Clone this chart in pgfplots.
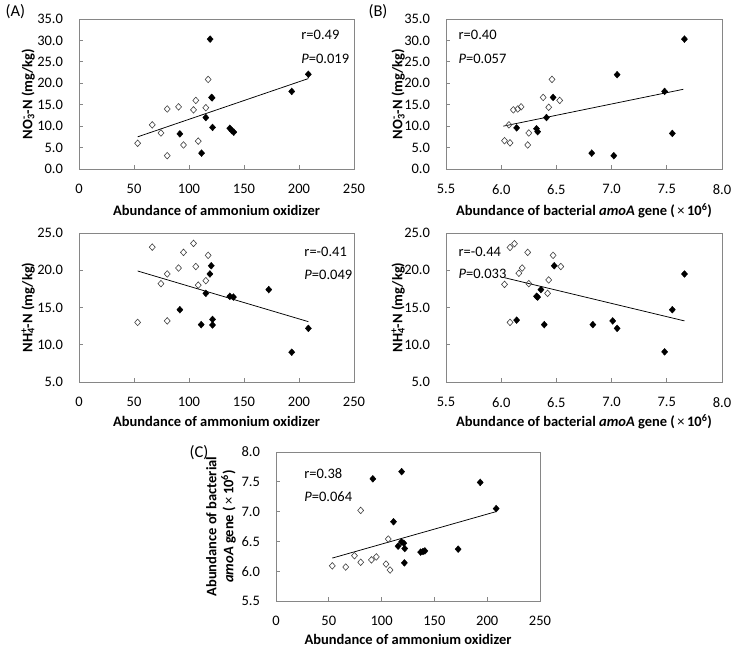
\documentclass[border=0pt]{standalone}
\usepackage{pgfplots}
\pgfplotsset{compat=1.18}
\usepackage{fontspec}
\setmainfont{Carlito}
\newcommand\fs{\fontsize{14.5bp}{17bp}\selectfont}
\newcommand\subsup[2]{\rlap{\textsuperscript{#2}}\textsubscript{#1}}
\definecolor{axgray}{HTML}{868686}
\pgfplotsset{
  base/.style={
    scale only axis, anchor=south west,
    axis line style={draw=axgray, line width=0.9bp},
    tick style={draw=axgray, line width=0.8bp},
    major tick length=3.5bp, tick align=inside,
    xtick pos=bottom, ytick pos=left,
    font=\fs,
    /pgf/number format/assume math mode=true,
    yticklabel style={/pgf/number format/.cd, fixed, fixed zerofill, precision=1, /tikz/.cd, xshift=-12.5bp},
    xticklabel style={yshift=-12bp},
    xlabel style={font=\fs\bfseries, anchor=base},
    ylabel style={font=\fs\bfseries, anchor=base},
    clip=false,
  },
  ao/.style={xmin=0, xmax=250, xtick={0,50,100,150,200,250},
    xlabel={Abundance of ammonium oxidizer}},
  amoa/.style={xmin=5.5, xmax=8, xtick={5.5,6.0,6.5,7.0,7.5,8.0},
    xticklabel style={/pgf/number format/.cd, fixed, fixed zerofill, precision=1},
    xlabel={Abundance of bacterial \textit{amoA} gene (\,{\mdseries ×}\,10\textsuperscript{6})}},
  no3/.style={ymin=0, ymax=35, ytick={0,5,10,15,20,25,30,35},
    ylabel={NO\subsup{3}{-}-N (mg/kg)}},
  nh4/.style={ymin=5, ymax=25, ytick={5,10,15,20,25},
    ylabel={NH\subsup{4}{+}-N (mg/kg)}},
  openpt/.style={only marks, mark=diamond, mark size=3.3bp,
    mark options={draw=black!75, fill=white, line width=0.6bp, xscale=1.2}},
  fillpt/.style={only marks, mark=diamond*, mark size=3.4bp,
    mark options={draw=black, fill=black, line width=0.4bp, xscale=1.2}},
  trend/.style={no marks, black, line width=0.75bp},
}
\begin{document}
\begin{tikzpicture}
\useasboundingbox (0,0) rectangle (733bp,650bp);
\node[anchor=base west, font=\fontsize{16.5bp}{19bp}\selectfont] at (2bp,633bp) {(A)};
\node[anchor=base west, font=\fontsize{16.5bp}{19bp}\selectfont] at (365bp,633bp) {(B)};
\node[anchor=base west, font=\fontsize{16.5bp}{19bp}\selectfont] at (186bp,192bp) {(C)};

% ---------- A top ----------
\begin{axis}[base, ao, no3, at={(79bp,481bp)}, width=275bp, height=150bp,
  xlabel style={at={(axis description cs:0.5,-0.313)}},
  ylabel style={at={(axis description cs:-0.170,0.5)}}]
\addplot[openpt] coordinates {(53.3,6.0) (66.6,10.3) (74.5,8.4) (80.2,14.0) (80.2,3.1) (90.5,14.5) (95.0,5.6) (104.1,13.8) (106.2,16.0) (108.4,6.5) (115.3,14.3) (117.4,20.9)};
\addplot[fillpt] coordinates {(91.7,8.2) (111.4,3.7) (115.3,12.0) (119.2,30.3) (120.5,16.7) (121.0,16.6) (121.4,9.7) (137.1,9.5) (139.2,8.9) (140.7,8.6) (193.4,18.1) (208.5,22.1)};
\addplot[trend] coordinates {(53.3,7.5) (208.5,21.1)};
\node[anchor=base west, font=\fs] at (rel axis cs:0.796,0.86) {r=0.49};
\node[anchor=base west, font=\fs] at (rel axis cs:0.796,0.70) {\textit{P}=0.019};
\end{axis}

% ---------- B top ----------
\begin{axis}[base, amoa, no3, at={(446bp,481bp)}, width=276bp, height=150bp,
  xlabel style={at={(axis description cs:0.5,-0.313)}},
  ylabel style={at={(axis description cs:-0.158,0.5)}}]
\addplot[openpt] coordinates {(6.03,6.6) (6.08,6.1) (6.07,10.3) (6.11,13.8) (6.15,14.0) (6.18,14.5) (6.24,5.6) (6.25,8.4) (6.38,16.7) (6.43,14.4) (6.46,20.9) (6.53,16.0)};
\addplot[fillpt] coordinates {(6.14,9.6) (6.32,9.4) (6.33,8.7) (6.41,12.0) (6.47,16.7) (6.82,3.7) (7.02,3.1) (7.05,22.0) (7.48,18.1) (7.55,8.3) (7.66,30.3)};
\addplot[trend] coordinates {(6.02,10.0) (7.65,18.6)};
\node[anchor=base west, font=\fs] at (rel axis cs:0.033,0.86) {r=0.40};
\node[anchor=base west, font=\fs] at (rel axis cs:0.033,0.70) {\textit{P}=0.057};
\end{axis}

% ---------- A bottom ----------
\begin{axis}[base, ao, nh4, at={(79bp,268bp)}, width=275bp, height=149bp,
  xlabel style={at={(axis description cs:0.5,-0.302)}},
  ylabel style={at={(axis description cs:-0.170,0.5)}}]
\addplot[openpt] coordinates {(53.3,13.0) (66.6,23.1) (74.5,18.2) (80.2,19.5) (80.2,13.2) (90.5,20.3) (95.0,22.4) (104.1,23.6) (106.2,20.5) (108.4,18.0) (115.3,18.6) (117.4,22.0)};
\addplot[fillpt] coordinates {(91.7,14.7) (111.1,12.7) (115.3,16.9) (119.0,19.5) (120.2,20.6) (121.4,13.4) (121.4,12.65) (137.1,16.5) (140.4,16.4) (172.5,17.4) (193.4,9.0) (208.5,12.2)};
\addplot[trend] coordinates {(53.3,19.9) (208.5,13.1)};
\node[anchor=base west, font=\fs] at (rel axis cs:0.807,0.841) {r=-0.41};
\node[anchor=base west, font=\fs] at (rel axis cs:0.807,0.691) {\textit{P}=0.049};
\end{axis}

% ---------- B bottom ----------
\begin{axis}[base, amoa, nh4, at={(446bp,268bp)}, width=276bp, height=149bp,
  xlabel style={at={(axis description cs:0.5,-0.302)}},
  ylabel style={at={(axis description cs:-0.158,0.5)}}]
\addplot[openpt] coordinates {(6.03,18.1) (6.08,13.0) (6.08,23.06) (6.12,23.56) (6.16,19.6) (6.19,20.3) (6.24,22.4) (6.25,18.2) (6.42,16.9) (6.43,18.7) (6.47,22.0) (6.54,20.5)};
\addplot[fillpt] coordinates {(6.14,13.3) (6.32,16.5) (6.33,16.4) (6.36,17.4) (6.39,12.7) (6.48,20.6) (6.83,12.7) (7.01,13.2) (7.05,12.2) (7.48,9.05) (7.55,14.7) (7.66,19.5)};
\addplot[trend] coordinates {(6.03,19.0) (7.66,13.2)};
\node[anchor=base west, font=\fs] at (rel axis cs:0.033,0.841) {r=-0.44};
\node[anchor=base west, font=\fs] at (rel axis cs:0.033,0.696) {\textit{P}=0.033};
\end{axis}

% ---------- C ----------
\begin{axis}[base, ao, at={(276bp,49bp)}, width=264bp, height=149bp,
  ymin=5.5, ymax=8, ytick={5.5,6.0,6.5,7.0,7.5,8.0},
  ylabel={Abundance of bacterial\\\textit{amoA} gene (\,{\mdseries ×}\,10\textsuperscript{6})},
  xlabel style={at={(axis description cs:0.5,-0.295)}},
  ylabel style={at={(axis description cs:-0.208,0.5)}, anchor=center, align=center}]
\addplot[openpt] coordinates {(53.3,6.09) (66.0,6.07) (74.3,6.26) (80.2,7.02) (80.2,6.15) (90.4,6.19) (95.0,6.24) (104.2,6.12) (106.3,6.54) (108.0,6.02)};
\addplot[fillpt] coordinates {(91.7,7.55) (111.3,6.83) (115.6,6.42) (118.8,6.49) (119.0,7.67) (121.0,6.47) (121.9,6.38) (121.6,6.14) (137.0,6.32) (139.2,6.33) (141.0,6.34) (172.5,6.37) (193.4,7.49) (208.5,7.05)};
\addplot[trend] coordinates {(53.3,6.22) (208.5,7.0)};
\node[anchor=base west, font=\fs] at (rel axis cs:0.094,0.823) {r=0.38};
\node[anchor=base west, font=\fs] at (rel axis cs:0.094,0.671) {\textit{P}=0.064};
\end{axis}
\end{tikzpicture}
\end{document}
